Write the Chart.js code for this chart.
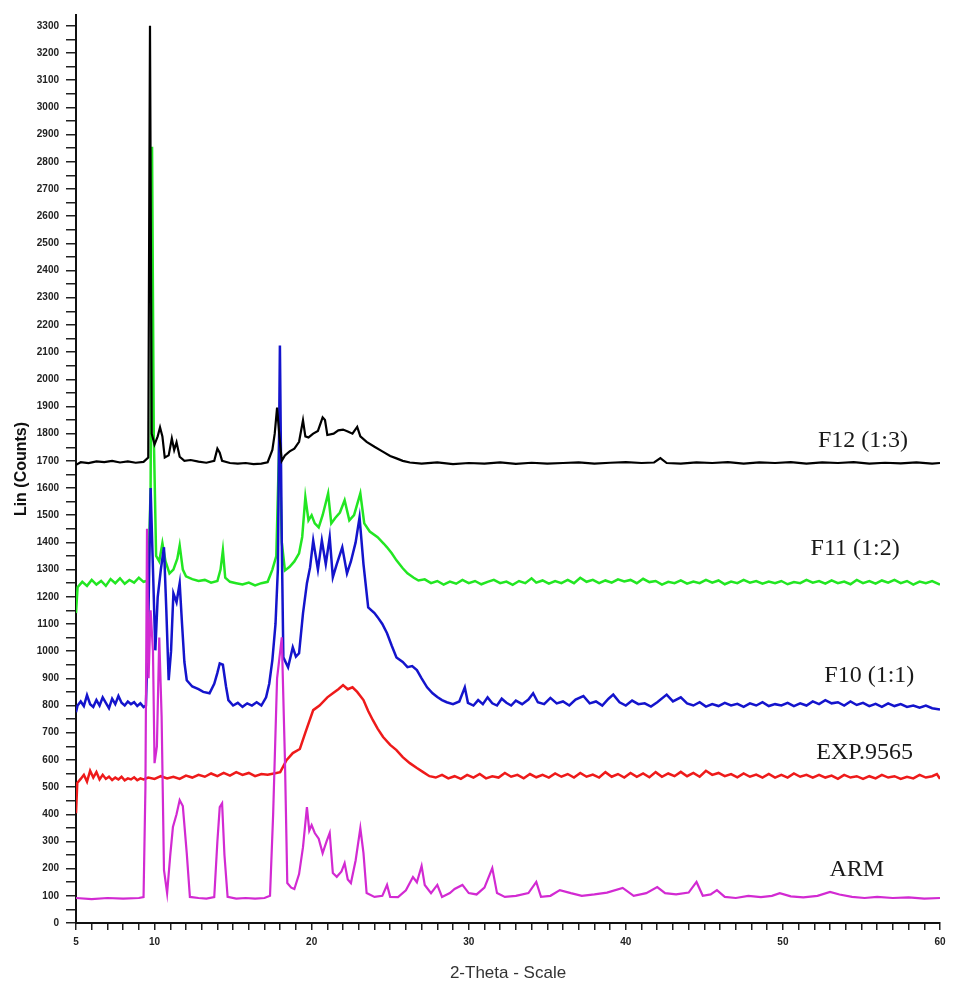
<!DOCTYPE html>
<html>
<head>
<meta charset="utf-8">
<script src="https://cdn.jsdelivr.net/npm/chart.js@4"></script>
<style>
  body { margin: 0; background: #fff; }
  #wrap { width: 972px; height: 988px; }
</style>
</head>
<body>
<div id="wrap"><canvas id="xrdChart" width="972" height="988"></canvas></div>
<script>
// 2-theta / counts pairs
var f12 = [[5,1685],[5.3,1695],[5.8,1692],[6.3,1698],[6.8,1695],[7.3,1700],[7.8,1694],[8.3,1698],[8.8,1693],[9.3,1696],[9.6,1712],[9.71,3300],[9.82,1800],[10.0,1760],[10.2,1790],[10.35,1823],[10.5,1790],[10.65,1712],[10.9,1720],[11.1,1782],[11.25,1740],[11.4,1768],[11.6,1715],[11.9,1700],[12.3,1703],[12.8,1697],[13.3,1693],[13.8,1700],[14.0,1745],[14.15,1730],[14.3,1700],[14.8,1692],[15.3,1690],[15.8,1692],[16.3,1688],[16.8,1690],[17.2,1695],[17.5,1740],[17.65,1800],[17.8,1896],[17.95,1790],[18.1,1700],[18.3,1720],[18.6,1735],[18.9,1745],[19.2,1770],[19.45,1849],[19.6,1790],[19.8,1786],[20.1,1800],[20.4,1810],[20.7,1860],[20.85,1850],[21.0,1795],[21.4,1800],[21.7,1812],[22.0,1815],[22.3,1808],[22.6,1800],[22.9,1825],[23.1,1790],[23.5,1770],[24.0,1752],[24.5,1735],[25.0,1718],[25.4,1709],[25.8,1700],[26.25,1694],[27,1690],[28,1694],[29,1688],[30,1692],[31,1690],[32,1694],[33,1689],[34,1693],[35,1690],[36,1692],[37,1694],[38,1690],[39,1693],[40,1695],[41,1692],[41.8,1694],[42.2,1710],[42.6,1692],[43.5,1690],[44.5,1694],[45.5,1692],[46.5,1695],[47.5,1690],[48.5,1694],[49.5,1692],[50.5,1695],[51.5,1690],[52.5,1694],[53.5,1692],[54.5,1695],[55.5,1690],[56.5,1693],[57.5,1691],[58.5,1694],[59.5,1690],[60,1692]];

var f11 = [[5,1140],[5.1,1235],[5.4,1255],[5.7,1240],[6.0,1262],[6.3,1245],[6.6,1258],[6.9,1240],[7.2,1265],[7.5,1250],[7.8,1268],[8.1,1248],[8.4,1262],[8.7,1252],[9.0,1270],[9.3,1255],[9.6,1260],[9.75,1600],[9.84,2855],[9.95,1800],[10.1,1350],[10.3,1330],[10.5,1397],[10.7,1330],[10.95,1286],[11.2,1300],[11.45,1340],[11.6,1389],[11.8,1300],[12.0,1275],[12.4,1265],[12.8,1258],[13.2,1262],[13.6,1252],[14.0,1258],[14.2,1300],[14.35,1371],[14.5,1270],[14.8,1255],[15.2,1250],[15.6,1245],[16.0,1252],[16.4,1242],[16.8,1250],[17.2,1255],[17.5,1300],[17.75,1350],[17.95,1800],[18.1,1400],[18.3,1297],[18.6,1310],[18.9,1330],[19.2,1360],[19.4,1420],[19.6,1566],[19.8,1481],[20.0,1500],[20.2,1470],[20.45,1455],[20.7,1500],[21.05,1580],[21.25,1470],[21.5,1490],[21.8,1510],[22.1,1555],[22.4,1481],[22.7,1500],[23.1,1580],[23.35,1470],[23.7,1440],[24.2,1419],[24.6,1395],[24.8,1382],[25.1,1360],[25.4,1334],[25.8,1305],[26.1,1286],[26.5,1270],[26.8,1260],[27.2,1264],[27.6,1250],[28,1258],[28.4,1245],[28.8,1256],[29.2,1248],[29.6,1262],[30,1250],[30.4,1258],[30.8,1246],[31.2,1255],[31.6,1262],[32,1250],[32.4,1256],[32.8,1244],[33.2,1258],[33.6,1250],[34,1268],[34.3,1252],[34.7,1260],[35.1,1248],[35.5,1258],[35.9,1250],[36.3,1262],[36.7,1250],[37.1,1270],[37.5,1255],[37.9,1262],[38.3,1250],[38.7,1260],[39.1,1252],[39.5,1264],[39.9,1256],[40.3,1262],[40.7,1250],[41.1,1266],[41.5,1254],[41.9,1258],[42.3,1245],[42.7,1255],[43.1,1250],[43.5,1260],[43.9,1248],[44.3,1256],[44.7,1250],[45.1,1262],[45.5,1252],[45.9,1260],[46.3,1246],[46.7,1256],[47.1,1250],[47.5,1262],[47.9,1252],[48.3,1258],[48.7,1248],[49.1,1256],[49.5,1250],[49.9,1258],[50.3,1246],[50.7,1254],[51.1,1250],[51.5,1262],[51.9,1252],[52.3,1258],[52.7,1248],[53.1,1260],[53.5,1250],[53.9,1256],[54.3,1246],[54.7,1262],[55.1,1250],[55.5,1258],[55.9,1248],[56.3,1260],[56.7,1252],[57.1,1262],[57.5,1250],[57.9,1258],[58.3,1245],[58.7,1256],[59.1,1250],[59.5,1258],[60,1245]];

var f10 = [[5,775],[5.1,800],[5.3,815],[5.5,798],[5.7,838],[5.9,805],[6.1,795],[6.3,820],[6.5,800],[6.7,830],[6.9,810],[7.1,790],[7.3,825],[7.5,805],[7.7,835],[7.9,810],[8.1,800],[8.3,815],[8.5,805],[8.7,812],[8.9,798],[9.1,808],[9.3,794],[9.45,800],[9.6,1100],[9.75,1600],[9.9,1300],[10.05,1003],[10.2,1198],[10.4,1300],[10.6,1382],[10.75,1150],[10.9,893],[11.05,1000],[11.2,1213],[11.4,1180],[11.6,1250],[11.75,1100],[11.9,960],[12.05,893],[12.4,870],[12.8,860],[13.1,850],[13.5,845],[13.8,880],[14.0,920],[14.15,955],[14.35,950],[14.55,870],[14.7,820],[15.0,800],[15.3,810],[15.6,795],[15.9,808],[16.2,800],[16.5,812],[16.8,800],[17.1,830],[17.3,880],[17.5,967],[17.7,1100],[17.85,1300],[17.98,2124],[18.1,1400],[18.2,977],[18.5,941],[18.8,1014],[19.0,980],[19.2,992],[19.45,1139],[19.7,1250],[19.9,1308],[20.1,1407],[20.4,1300],[20.65,1407],[20.9,1320],[21.15,1419],[21.35,1272],[21.6,1320],[21.95,1382],[22.25,1286],[22.5,1330],[22.8,1400],[23.05,1492],[23.3,1320],[23.6,1161],[24.0,1140],[24.2,1125],[24.5,1100],[24.8,1066],[25.1,1020],[25.4,977],[25.8,960],[26.1,941],[26.4,945],[26.7,930],[27.0,900],[27.35,867],[27.7,845],[28.0,831],[28.3,820],[28.6,812],[29.0,805],[29.4,815],[29.75,867],[29.95,810],[30.3,800],[30.6,820],[30.9,805],[31.2,830],[31.5,808],[31.8,800],[32.1,825],[32.4,810],[32.7,800],[33.0,818],[33.4,805],[33.8,822],[34.1,845],[34.4,812],[34.8,805],[35.2,828],[35.6,808],[36.0,815],[36.4,800],[36.8,822],[37.3,835],[37.7,808],[38.1,815],[38.5,800],[38.9,825],[39.2,840],[39.6,812],[40.0,800],[40.4,818],[40.8,805],[41.2,808],[41.6,796],[42.0,812],[42.6,840],[43.0,815],[43.5,830],[43.9,808],[44.3,800],[44.7,812],[45.1,796],[45.5,805],[45.9,798],[46.3,810],[46.7,800],[47.1,806],[47.5,795],[47.9,808],[48.3,800],[48.7,812],[49.1,798],[49.5,805],[49.9,800],[50.3,810],[50.7,798],[51.1,808],[51.5,800],[51.9,815],[52.3,805],[52.7,820],[53.1,808],[53.5,812],[53.9,800],[54.3,815],[54.7,802],[55.1,810],[55.5,798],[55.9,806],[56.3,795],[56.7,808],[57.1,798],[57.5,805],[57.9,795],[58.3,800],[58.7,792],[59.1,800],[59.5,790],[60,785]];

var exp9565 = [[5,404],[5.08,515],[5.3,530],[5.5,545],[5.7,520],[5.9,560],[6.1,535],[6.3,555],[6.5,528],[6.7,545],[6.9,530],[7.1,538],[7.3,526],[7.5,535],[7.7,528],[7.9,538],[8.1,525],[8.3,532],[8.5,528],[8.7,536],[8.9,525],[9.1,532],[9.3,528],[9.6,535],[10,530],[10.4,540],[10.8,532],[11.2,538],[11.6,530],[12,542],[12.4,535],[12.8,545],[13.2,538],[13.6,550],[14,540],[14.4,552],[14.8,542],[15.2,555],[15.6,545],[16,552],[16.4,540],[16.8,548],[17.2,545],[17.6,550],[18.0,555],[18.4,599],[18.8,625],[19.25,640],[19.6,700],[20.1,783],[20.5,800],[21.0,830],[21.35,845],[21.7,860],[22.0,875],[22.3,860],[22.6,867],[22.9,850],[23.3,820],[23.6,780],[23.9,746],[24.2,715],[24.55,684],[25.0,655],[25.4,636],[25.8,610],[26.25,588],[26.7,570],[27.1,555],[27.5,540],[27.9,535],[28.3,545],[28.7,532],[29.1,540],[29.5,530],[29.9,545],[30.3,535],[30.7,548],[31.1,532],[31.5,540],[31.9,535],[32.3,552],[32.7,538],[33.1,545],[33.5,532],[33.9,548],[34.3,536],[34.7,545],[35.1,535],[35.5,550],[35.9,538],[36.3,548],[36.7,535],[37.1,552],[37.5,538],[37.9,546],[38.3,535],[38.7,555],[39.1,538],[39.5,548],[39.9,535],[40.3,552],[40.7,538],[41.1,550],[41.5,536],[41.9,555],[42.3,538],[42.7,550],[43.1,540],[43.5,556],[43.9,540],[44.3,552],[44.7,538],[45.1,560],[45.5,545],[45.9,552],[46.3,540],[46.7,548],[47.1,536],[47.5,550],[47.9,538],[48.3,546],[48.7,535],[49.1,548],[49.5,535],[49.9,545],[50.3,535],[50.7,550],[51.1,538],[51.5,545],[51.9,535],[52.3,545],[52.7,535],[53.1,542],[53.5,530],[53.9,545],[54.3,535],[54.7,540],[55.1,530],[55.5,540],[55.9,532],[56.3,545],[56.7,535],[57.1,540],[57.5,530],[57.9,538],[58.3,532],[58.7,545],[59.1,535],[59.5,540],[59.8,548],[60,530]];

var arm = [[5,92],[6,88],[7,92],[8,90],[9,92],[9.3,95],[9.42,500],[9.52,1450],[9.62,900],[9.75,1150],[9.9,1000],[10.0,588],[10.15,650],[10.3,1050],[10.45,760],[10.6,195],[10.8,110],[11.0,250],[11.17,353],[11.4,400],[11.6,452],[11.8,430],[12.05,257],[12.25,96],[12.8,92],[13.3,90],[13.8,95],[14.0,300],[14.15,426],[14.3,440],[14.45,250],[14.65,96],[15.2,90],[15.8,92],[16.4,90],[17.0,92],[17.35,100],[17.55,400],[17.8,900],[18.1,1051],[18.3,600],[18.45,147],[18.7,130],[18.9,125],[19.2,180],[19.45,279],[19.7,426],[19.85,340],[20.0,360],[20.2,331],[20.45,310],[20.7,257],[20.95,300],[21.15,331],[21.35,184],[21.6,170],[21.9,190],[22.1,220],[22.3,160],[22.5,147],[22.8,230],[23.1,349],[23.3,257],[23.5,110],[24.0,96],[24.5,100],[24.8,140],[25.0,96],[25.5,95],[26.0,120],[26.45,169],[26.7,150],[27.0,210],[27.2,140],[27.6,110],[28.0,140],[28.3,96],[28.8,110],[29.1,125],[29.6,140],[30.0,110],[30.5,105],[31.0,130],[31.5,202],[31.8,110],[32.3,96],[33.0,100],[33.8,110],[34.3,151],[34.6,96],[35.2,100],[35.8,121],[36.5,110],[37.2,100],[38.0,105],[38.8,112],[39.8,129],[40.5,100],[41.3,110],[42.0,132],[42.5,110],[43.2,105],[44.0,112],[44.5,151],[44.9,100],[45.4,105],[45.8,121],[46.3,96],[47,92],[47.8,100],[48.6,95],[49.3,100],[49.8,110],[50.5,98],[51.3,94],[52.2,100],[53.0,114],[53.6,105],[54.4,96],[55.2,92],[56,96],[57,92],[58,94],[59,90],[60,92]];

// names written next to each trace, anchored in data units
var traceNames = ["F12 (1:3)", "F11 (1:2)", "F10 (1:1)", "EXP.9565", "ARM"];
var nameAnchors = [[55.1, 1775], [54.6, 1378], [55.5, 911], [55.2, 628], [54.7, 195]];

var xLabelled = [5, 10, 20, 30, 40, 50, 60];

function toPoints(list) {
    return list.map(p => ({ x: p[0], y: p[1] }));
}

function traceSet(list, colour, width) {
    return {
        data: toPoints(list),
        borderColor: colour,
        borderWidth: width,
        pointRadius: 0,
        tension: 0,
        fill: false
    };
}

// writes the trace names in a serif face at their anchors
var nameWriter = {
    id: 'nameWriter',
    afterDatasetsDraw(chart) {
        var ctx = chart.ctx;
        var xs = chart.scales.x, ys = chart.scales.y;
        ctx.save();
        ctx.font = '24px "Liberation Serif", "Times New Roman", serif';
        ctx.fillStyle = '#1a1a1a';
        ctx.textAlign = 'center';
        ctx.textBaseline = 'middle';
        traceNames.forEach((name, i) => {
            ctx.fillText(name, xs.getPixelForValue(nameAnchors[i][0]), ys.getPixelForValue(nameAnchors[i][1]));
        });
        ctx.restore();
    }
};

var ctx = document.getElementById('xrdChart').getContext('2d');
var chart = new Chart(ctx, {
    type: 'line',
    data: {
        datasets: [
            // first dataset is painted last, so black sits on top
            traceSet(f12, '#000000', 2.2),
            traceSet(arm, '#d22ad2', 2.2),
            traceSet(exp9565, '#ee1a1a', 2.5),
            traceSet(f10, '#1414cc', 2.5),
            traceSet(f11, '#22e622', 2.5)
        ]
    },
    options: {
        responsive: false,
        animation: false,
        layout: { padding: { top: 15, right: 32, left: 0, bottom: 0 } },
        plugins: {
            legend: { display: false },
            tooltip: { enabled: false }
        },
        scales: {
            x: {
                type: 'linear',
                min: 5,
                max: 60,
                afterFit: s => { s.height = 65; },
                border: { display: true, color: '#111', width: 2 },
                grid: { drawOnChartArea: false, drawTicks: true, tickLength: 7, color: '#222', lineWidth: 1.5 },
                ticks: {
                    stepSize: 1,
                    autoSkip: false,
                    maxRotation: 0,
                    padding: 6,
                    color: '#222',
                    font: { family: 'Arial, "Liberation Sans", sans-serif', size: 10, weight: 'bold' },
                    callback: v => xLabelled.indexOf(v) >= 0 ? String(v) : ''
                },
                title: {
                    display: true,
                    text: '2-Theta - Scale',
                    color: '#333',
                    font: { family: 'Arial, "Liberation Sans", sans-serif', size: 17 },
                    padding: { top: 2, bottom: 4 }
                }
            },
            y: {
                min: 0,
                max: 3340,
                afterFit: s => { s.width = 76; },
                border: { display: true, color: '#111', width: 2 },
                grid: { drawOnChartArea: false, drawTicks: true, tickLength: 10, color: '#222', lineWidth: 1.5 },
                ticks: {
                    stepSize: 50,
                    includeBounds: false,
                    autoSkip: false,
                    padding: 7,
                    color: '#222',
                    font: { family: 'Arial, "Liberation Sans", sans-serif', size: 10, weight: 'bold' },
                    callback: v => v % 100 === 0 ? String(v) : ''
                },
                title: {
                    display: true,
                    text: 'Lin (Counts)',
                    color: '#111',
                    font: { family: 'Arial, "Liberation Sans", sans-serif', size: 16, weight: 'bold' },
                    padding: { top: 12, bottom: 0 }
                }
            }
        }
    },
    plugins: [nameWriter]
});
</script>
</body>
</html>
